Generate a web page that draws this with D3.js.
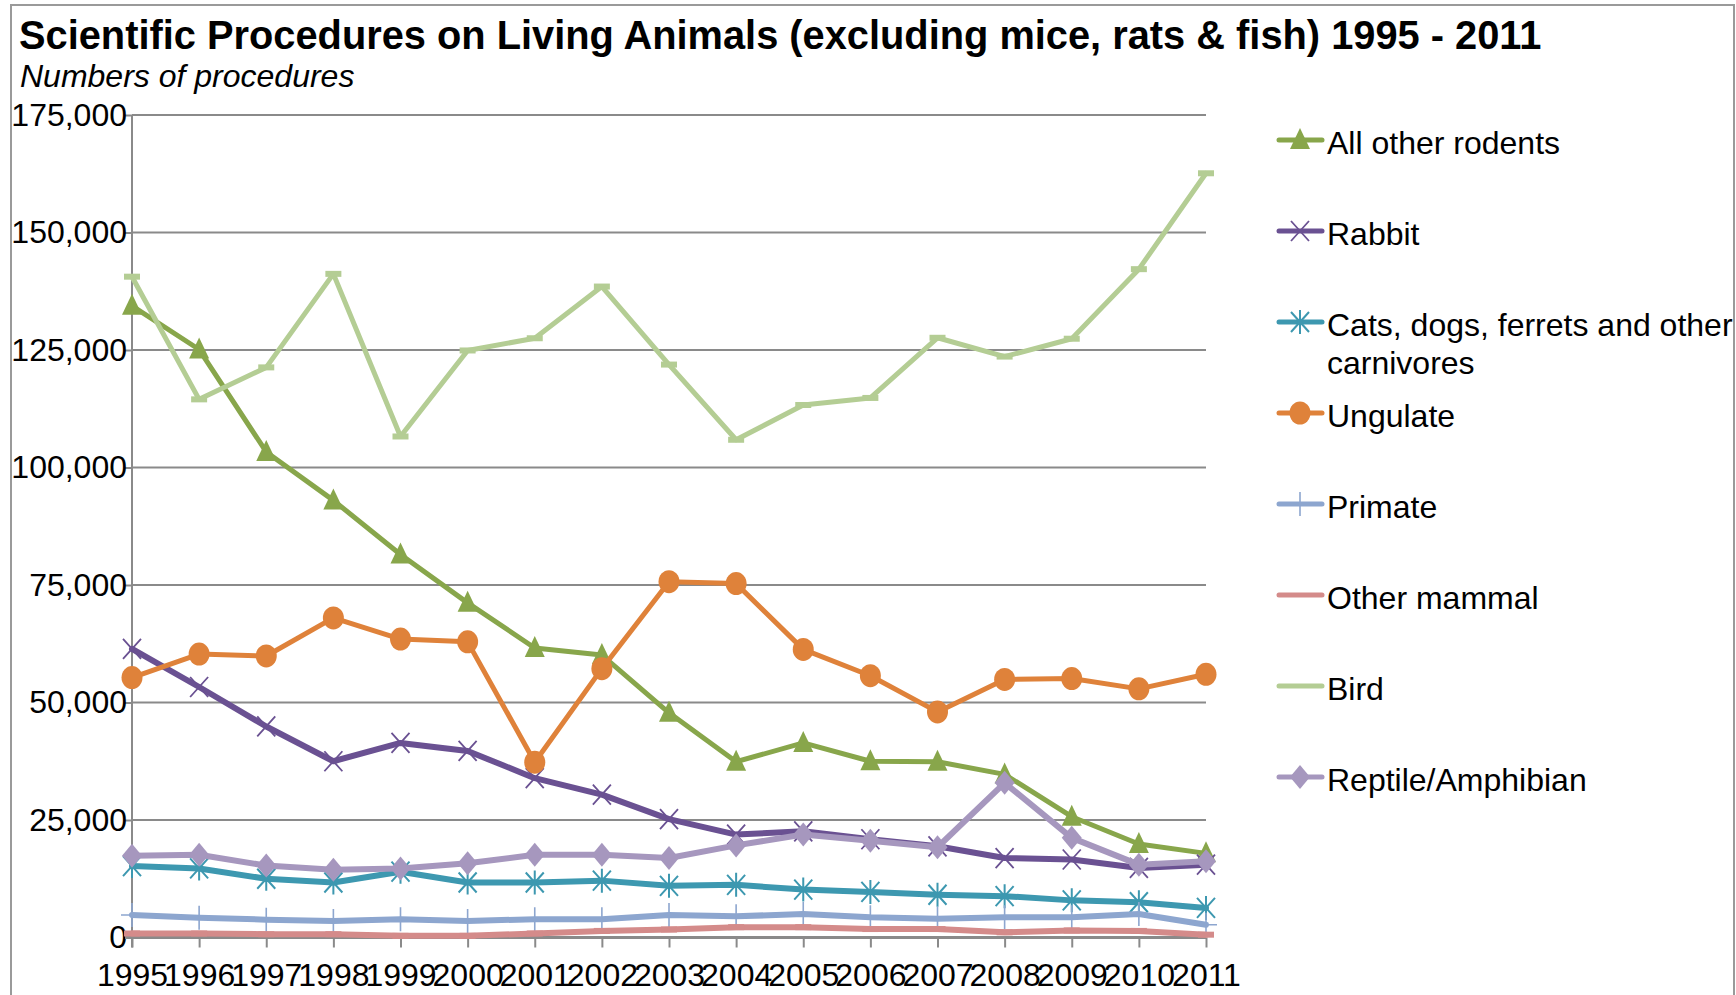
<!DOCTYPE html>
<html>
<head>
<meta charset="utf-8">
<script src="https://cdn.jsdelivr.net/npm/d3@7"></script>
<style>
  html, body { margin: 0; padding: 0; background: #ffffff; }
  svg { display: block; font-family: "Liberation Sans", Arial, sans-serif; }
</style>
</head>
<body>
<svg id="chart" width="1736" height="995"></svg>
<script>
// Years on the category axis
const years = [1995, 1996, 1997, 1998, 1999, 2000, 2001, 2002, 2003, 2004, 2005, 2006, 2007, 2008, 2009, 2010, 2011];

// Number of procedures per year, one array per animal group
const allOtherRodents = [134400, 125100, 103300, 93000, 81500, 71200, 61600, 60100, 47800, 37400, 41400, 37500, 37400, 34700, 25700, 19900, 17900];
const rabbit          = [61400, 53300, 44900, 37500, 41400, 39700, 33900, 30400, 25200, 21900, 22600, 20900, 19400, 16900, 16600, 14800, 15500];
const carnivores      = [15200, 14700, 12500, 11700, 14000, 11700, 11700, 12100, 11000, 11200, 10200, 9700, 9100, 8800, 7900, 7500, 6300];
const ungulate        = [55300, 60300, 59900, 68000, 63500, 62900, 37300, 57200, 75700, 75300, 61300, 55700, 48000, 54900, 55100, 52900, 56000];
const primate         = [4800, 4200, 3800, 3500, 3900, 3500, 3900, 3900, 4800, 4500, 5000, 4300, 4000, 4300, 4300, 5000, 2700];
const otherMammal     = [850, 850, 700, 700, 350, 350, 850, 1400, 1700, 2200, 2200, 1800, 1800, 1100, 1500, 1400, 600];
const bird            = [140600, 114500, 121300, 141200, 106600, 124900, 127500, 138500, 121900, 105900, 113300, 114800, 127600, 123600, 127400, 142200, 162600];
const reptileAmphibian = [17400, 17600, 15300, 14400, 14700, 15800, 17600, 17600, 16900, 19600, 21900, 20600, 19200, 32900, 21200, 15500, 16200];

// Value axis ticks
const yTicks = [0, 25000, 50000, 75000, 100000, 125000, 150000, 175000];

const series = [
  { name: ["All other rodents"], values: allOtherRodents, color: "#88a64b", marker: "triangle", width: 5 },
  { name: ["Rabbit"], values: rabbit, color: "#6a5192", marker: "x", width: 6 },
  { name: ["Cats, dogs, ferrets and other", "carnivores"], values: carnivores, color: "#3d98b0", marker: "star", width: 6 },
  { name: ["Ungulate"], values: ungulate, color: "#df823a", marker: "circle", width: 5 },
  { name: ["Primate"], values: primate, color: "#8da6cf", marker: "plus", width: 6 },
  { name: ["Other mammal"], values: otherMammal, color: "#d48b8a", marker: "dash", width: 6 },
  { name: ["Bird"], values: bird, color: "#b4cd94", marker: "dash", width: 5 },
  { name: ["Reptile/Amphibian"], values: reptileAmphibian, color: "#a697be", marker: "diamond", width: 6 }
];

const svg = d3.select("#chart");
const gridColor = "#8a8a8a";

// Chart frame
svg.append("rect")
  .attr("x", 11).attr("y", 5)
  .attr("width", 1723).attr("height", 1010)
  .attr("fill", "none").attr("stroke", "#9a9a9a").attr("stroke-width", 2);

// Titles
svg.append("text")
  .attr("x", 19).attr("y", 49)
  .attr("font-size", 39.8).attr("font-weight", "bold").attr("fill", "#000")
  .text("Scientific Procedures on Living Animals (excluding mice, rats & fish) 1995 - 2011");
svg.append("text")
  .attr("x", 20).attr("y", 87)
  .attr("font-size", 32).attr("font-style", "italic").attr("fill", "#000")
  .text("Numbers of procedures");

// Scales
const x = d3.scalePoint().domain(years).range([132, 1206]);
const y = d3.scaleLinear().domain([0, 175000]).range([937.5, 115]);

// Horizontal gridlines
svg.append("g")
  .selectAll("line")
  .data(yTicks.filter(d => d > 0))
  .join("line")
  .attr("x1", 132).attr("x2", 1206)
  .attr("y1", d => y(d)).attr("y2", d => y(d))
  .attr("stroke", gridColor).attr("stroke-width", 2);

// Value axis
const yAxis = svg.append("g")
  .attr("transform", "translate(132,0)")
  .call(d3.axisLeft(y).tickValues(yTicks).tickFormat(d3.format(",")).tickSize(7).tickPadding(-2));
yAxis.select(".domain").attr("stroke", gridColor).attr("stroke-width", 2).attr("d", `M0,${y(175000)}V${y(0) + 10}`);
yAxis.selectAll(".tick line").attr("stroke", gridColor).attr("stroke-width", 2);
yAxis.selectAll(".tick text")
  .attr("font-size", 32).attr("fill", "#000")
  .attr("font-family", "Liberation Sans, Arial, sans-serif");

// Category axis
const xAxis = svg.append("g")
  .attr("transform", `translate(0,${y(0)})`)
  .call(d3.axisBottom(x).tickSize(10).tickPadding(16));
xAxis.select(".domain").attr("stroke", gridColor).attr("stroke-width", 3).attr("d", "M125,0H1206");
xAxis.selectAll(".tick line").attr("stroke", gridColor).attr("stroke-width", 2);
xAxis.selectAll(".tick text")
  .attr("font-size", 32).attr("fill", "#000")
  .attr("font-family", "Liberation Sans, Arial, sans-serif");

// Marker drawing
function drawMarker(g, type, color) {
  switch (type) {
    case "triangle":
      g.append("path").attr("d", "M0,-12L10,9L-10,9Z").attr("fill", color);
      break;
    case "circle":
      g.append("ellipse").attr("rx", 10.5).attr("ry", 11.5).attr("fill", color);
      break;
    case "diamond":
      g.append("path").attr("d", "M0,-12L10,0L0,12L-10,0Z").attr("fill", color);
      break;
    case "x":
      g.append("path").attr("d", "M-9,-10L9,10M-9,10L9,-10")
        .attr("stroke", color).attr("stroke-width", 1.8).attr("fill", "none");
      break;
    case "star":
      g.append("path").attr("d", "M0,-12V12M-9,-10L9,10M-9,10L9,-10")
        .attr("stroke", color).attr("stroke-width", 2).attr("fill", "none");
      break;
    case "plus":
      g.append("path").attr("d", "M0,-12V12M-11,0H11")
        .attr("stroke", color).attr("stroke-width", 1.6).attr("fill", "none");
      break;
    case "dash":
      g.append("rect").attr("x", -8).attr("y", -3).attr("width", 16).attr("height", 6).attr("fill", color);
      break;
  }
}

const line = d3.line().x((d, i) => x(years[i])).y(d => y(d));

// Series lines and markers, drawn in legend order
series.forEach(s => {
  const g = svg.append("g");
  g.append("path")
    .attr("d", line(s.values))
    .attr("fill", "none")
    .attr("stroke", s.color)
    .attr("stroke-width", s.width)
    .attr("stroke-linejoin", "round")
    .attr("stroke-linecap", "round");
  s.values.forEach((v, i) => {
    const m = g.append("g").attr("transform", `translate(${x(years[i])},${y(v)})`);
    drawMarker(m, s.marker, s.color);
  });
});

// Legend
const legend = svg.append("g");
series.forEach((s, i) => {
  const ly = 140 + i * 91;
  const item = legend.append("g");
  item.append("line")
    .attr("x1", 1279).attr("x2", 1322).attr("y1", ly).attr("y2", ly)
    .attr("stroke", s.color).attr("stroke-width", 5).attr("stroke-linecap", "round");
  if (s.marker !== "dash") {
    const m = item.append("g").attr("transform", `translate(1300,${ly})`);
    drawMarker(m, s.marker, s.color);
  }
  const t = item.append("text")
    .attr("x", 1327).attr("y", ly + 14)
    .attr("font-size", 32).attr("fill", "#000");
  s.name.forEach((part, k) => {
    t.append("tspan").attr("x", 1327).attr("dy", k === 0 ? 0 : 38).text(part);
  });
});
</script>
</body>
</html>
